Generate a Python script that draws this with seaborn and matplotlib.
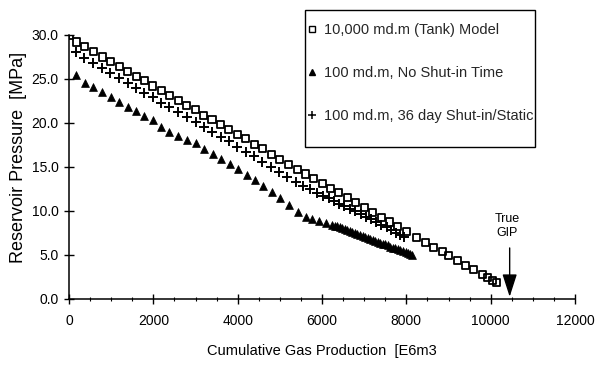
import matplotlib
matplotlib.use('Agg')
import matplotlib.pyplot as plt
import seaborn as sns
from matplotlib.lines import Line2D
from matplotlib.patches import Rectangle
from matplotlib.ticker import MultipleLocator, FormatStrFormatter

# ---------------- data ----------------
tank_x = [0, 170, 370, 580, 790, 990, 1190, 1390, 1590, 1790, 1990, 2190, 2390, 2590,
          2790, 2990, 3190, 3390, 3590, 3790, 3990, 4190, 4390, 4590, 4800, 5000, 5200,
          5410, 5610, 5805, 6005, 6200, 6400, 6600, 6800, 7000, 7200, 7400, 7600, 7800,
          8000, 8230, 8450, 8640, 8850, 9000, 9210, 9400, 9590, 9800, 9920, 10040, 10130]
tank_y = [30.0, 29.2, 28.7, 28.1, 27.5, 27.0, 26.4, 25.9, 25.3, 24.8, 24.2, 23.7, 23.1, 22.6,
          22.0, 21.5, 20.9, 20.4, 19.8, 19.3, 18.7, 18.2, 17.6, 17.1, 16.4, 15.85, 15.3,
          14.75, 14.2, 13.65, 13.1, 12.6, 12.05, 11.5, 10.95, 10.4, 9.85, 9.3, 8.75, 8.2,
          7.65, 7.0, 6.4, 5.9, 5.35, 4.9, 4.4, 3.85, 3.35, 2.8, 2.45, 2.15, 1.9]

noshut_x = [166, 379, 575, 788, 994, 1190, 1390, 1585, 1782, 1980, 2177, 2375, 2588, 2790,
            3005, 3200, 3415, 3615, 3820, 4015, 4215, 4400, 4610, 4805, 5010, 5215, 5435,
            5610, 5770, 5925, 6085, 6240, 6300, 6360, 6420, 6480, 6540, 6600, 6660, 6720,
            6780, 6840, 6900, 6960, 7020, 7080, 7140, 7200, 7260, 7320, 7380, 7440, 7500,
            7560, 7620, 7680, 7740, 7800, 7860, 7920, 7980, 8040, 8090, 8135]
noshut_y = [25.45, 24.6, 24.1, 23.55, 23.0, 22.4, 21.85, 21.4, 20.8, 20.3, 19.6, 19.0, 18.5, 18.1,
            17.7, 17.1, 16.5, 15.95, 15.35, 14.75, 14.1, 13.5, 12.85, 12.15, 11.45, 10.65, 9.85,
            9.35, 9.05, 8.85, 8.65, 8.45, 8.35, 8.25, 8.15, 8.05, 7.9, 7.8, 7.7, 7.6,
            7.5, 7.4, 7.25, 7.15, 7.05, 6.95, 6.85, 6.75, 6.6, 6.5, 6.4, 6.3, 6.2,
            6.1, 5.95, 5.85, 5.75, 5.65, 5.55, 5.45, 5.3, 5.2, 5.1, 5.0]

static_x = [0, 166, 362, 575, 781, 978, 1177, 1390, 1585, 1782, 1995, 2177, 2375, 2588, 2790,
            3005, 3200, 3400, 3600, 3795, 3990, 4190, 4390, 4585, 4800, 4980, 5180, 5375,
            5560, 5720, 5870, 6020, 6160, 6280, 6400, 6530, 6660, 6790, 6920, 7050, 7170,
            7290, 7410, 7530, 7640, 7750, 7850, 7950]
static_y = [30.0, 28.1, 27.35, 26.8, 26.2, 25.65, 25.1, 24.5, 23.95, 23.45, 22.9, 22.3, 21.8, 21.3, 20.7,
            20.15, 19.6, 19.0, 18.45, 17.9, 17.3, 16.75, 16.2, 15.6, 15.0, 14.45, 13.85, 13.3,
            12.85, 12.45, 12.1, 11.75, 11.45, 11.15, 10.85, 10.55, 10.25, 9.95, 9.65, 9.35, 9.05,
            8.75, 8.45, 8.15, 7.85, 7.55, 7.3, 7.0]

series_labels = ["10,000 md.m (Tank) Model",
                 "100 md.m, No Shut-in Time",
                 "100 md.m, 36 day Shut-in/Static"]
x_ticks = [0, 2000, 4000, 6000, 8000, 10000, 12000]
y_ticks = [0, 5, 10, 15, 20, 25, 30]
gip_x = 10450
gip_label = "True\nGIP"
x_title = "Cumulative Gas Production  [E6m3"
y_title = "Reservoir Pressure  [MPa]"

# ---------------- figure ----------------
sns.set_style('ticks')
plt.rcParams['font.family'] = ['Liberation Sans', 'DejaVu Sans']
plt.rcParams['axes.linewidth'] = 1.1

fig = plt.figure(figsize=(5.97, 3.66), dpi=100)
ax = fig.add_axes([0.1156, 0.1831, 0.8476, 0.7213])

sns.scatterplot(x=tank_x, y=tank_y, marker='s', s=26, facecolor='none',
                edgecolor='black', linewidth=1.3, ax=ax, zorder=3)
sns.scatterplot(x=noshut_x, y=noshut_y, marker='^', s=32, color='black',
                edgecolor='black', linewidth=0.5, ax=ax, zorder=3)
sns.scatterplot(x=static_x, y=static_y, marker='+', s=45, color='black',
                linewidth=1.4, ax=ax, zorder=3)

ax.set_xlim(0, 12000)
ax.set_ylim(0, 30)
ax.set_xticks(x_ticks)
ax.set_yticks(y_ticks)
ax.xaxis.set_minor_locator(MultipleLocator(500))
ax.yaxis.set_major_formatter(FormatStrFormatter('%.1f'))
ax.tick_params(axis='both', which='major', direction='inout', length=7, width=1,
               color='black', labelsize=10, labelcolor='black')
ax.tick_params(axis='x', which='major', pad=7)
ax.tick_params(axis='y', which='major', pad=4)
ax.tick_params(axis='x', which='minor', direction='inout', length=3, width=0.8, color='black')
sns.despine(ax=ax)
for sp in ('left', 'bottom'):
    ax.spines[sp].set_color('black')

ax.set_xlabel(x_title, fontsize=10.5, labelpad=12, color='black')
ax.set_ylabel(y_title, fontsize=13, color='black')
ax.yaxis.set_label_coords(-0.083, 0.536)

# True GIP arrow
ax.annotate('', xy=(gip_x, 0.25), xytext=(gip_x, 5.8),
            arrowprops=dict(arrowstyle='-|>,head_length=1.4,head_width=0.45',
                            color='black', lw=1.0, mutation_scale=10,
                            shrinkA=0, shrinkB=0))
ax.text(gip_x - 60, 8.3, gip_label, ha='center', va='center', fontsize=9,
        linespacing=1.15, color='black')

# legend with separate frame
handles = [
    Line2D([], [], marker='s', ls='none', mfc='none', mec='black', ms=4, mew=1.0),
    Line2D([], [], marker='^', ls='none', mfc='black', mec='black', ms=4.5),
    Line2D([], [], marker='+', ls='none', color='black', ms=5.5, mew=1.1),
]
fig.legend(handles, series_labels, loc='upper left',
           bbox_to_anchor=(306 / 597, 1 - 23 / 366), frameon=False,
           fontsize=10.5, borderpad=0, handlelength=0.8, handletextpad=0.4,
           labelspacing=2.0, borderaxespad=0)
fig.add_artist(Rectangle((305 / 597, 1 - 147 / 366), 230 / 597, 137 / 366,
                         transform=fig.transFigure, fill=False,
                         edgecolor='black', lw=1.0))

fig.savefig('out.png', dpi=100)
